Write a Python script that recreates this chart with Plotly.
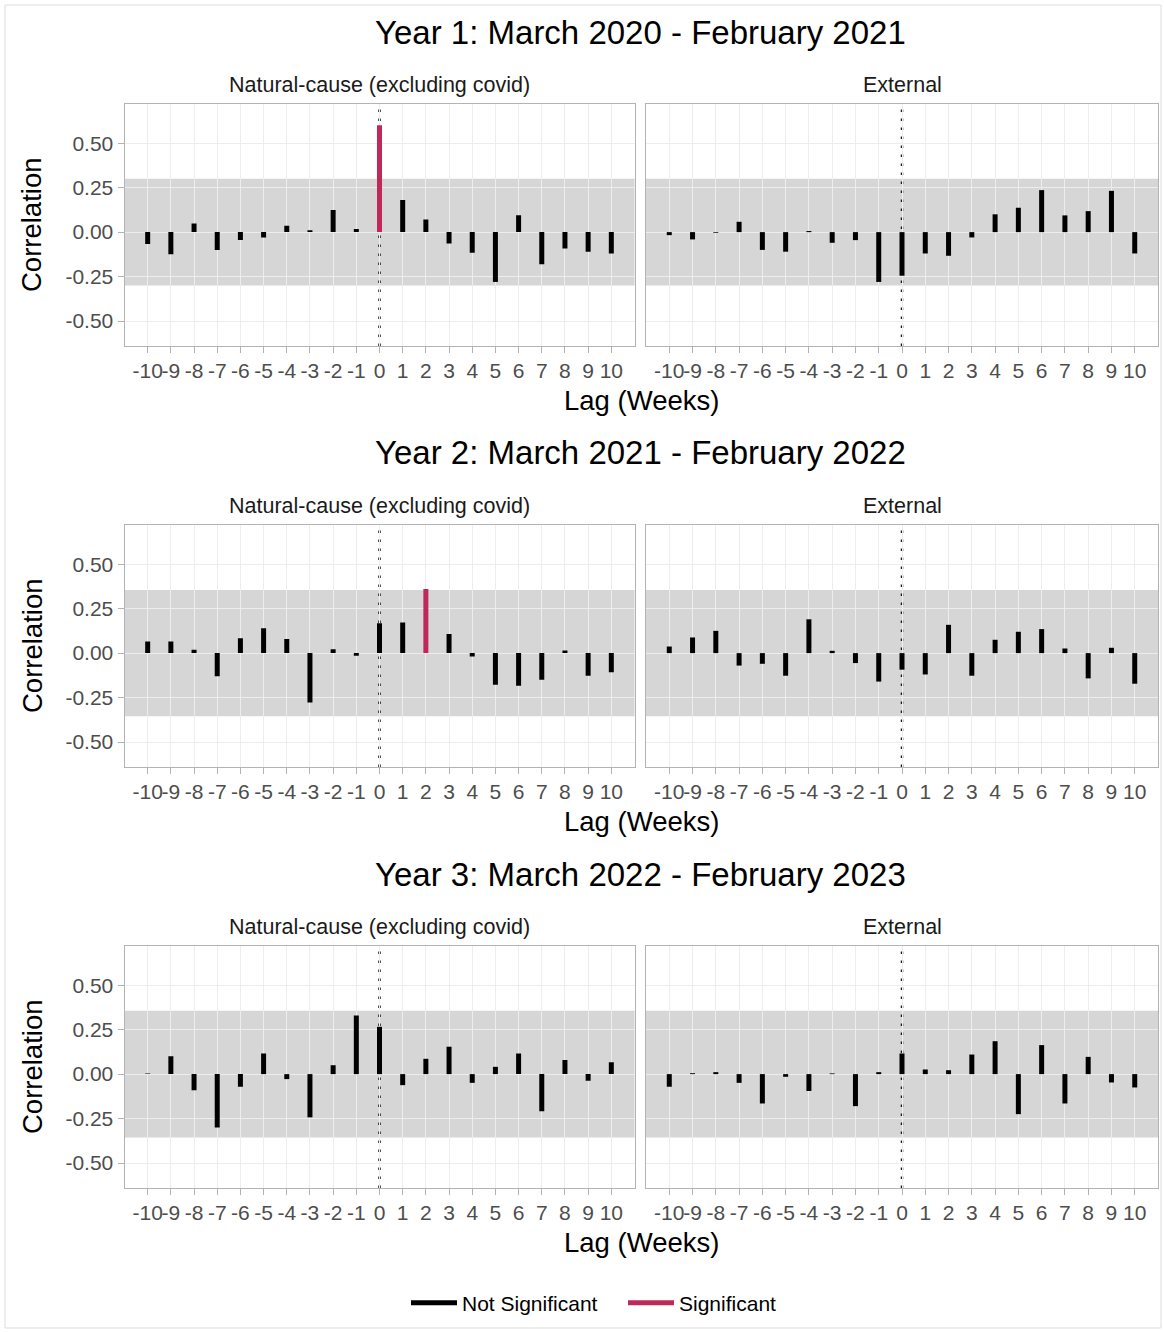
import plotly.graph_objects as go

# ---------------- data ----------------
lags = list(range(-10, 11))
lag_tick_labels = ["-10", "-9", "-8", "-7", "-6", "-5", "-4", "-3", "-2", "-1", "0",
                   "1", "2", "3", "4", "5", "6", "7", "8", "9", "10"]
corr_tick_values = [-0.5, -0.25, 0.0, 0.25, 0.5]
corr_tick_labels = ["-0.50", "-0.25", "0.00", "0.25", "0.50"]

year_titles = ["Year 1: March 2020 - February 2021",
               "Year 2: March 2021 - February 2022",
               "Year 3: March 2022 - February 2023"]
panel_titles = ["Natural-cause (excluding covid)", "External"]

# correlation by lag (-10 .. 10)
y1_natural = [-0.067, -0.124, 0.049, -0.10, -0.045, -0.03, 0.036, 0.01, 0.124, 0.017, 0.60,
              0.18, 0.071, -0.064, -0.116, -0.28, 0.095, -0.18, -0.092, -0.11, -0.12]
y1_external = [-0.017, -0.041, -0.004, 0.058, -0.10, -0.11, 0.006, -0.06, -0.045, -0.28, -0.245,
               -0.12, -0.133, -0.03, 0.10, 0.137, 0.236, 0.094, 0.118, 0.232, -0.12]
y2_natural = [0.065, 0.065, 0.019, -0.13, 0.084, 0.14, 0.08, -0.277, 0.022, -0.015, 0.168,
              0.172, 0.36, 0.108, -0.019, -0.178, -0.183, -0.15, 0.015, -0.127, -0.108]
y2_external = [0.037, 0.088, 0.125, -0.07, -0.06, -0.127, 0.19, 0.013, -0.056, -0.16, -0.093,
               -0.12, 0.159, -0.127, 0.075, 0.12, 0.135, 0.026, -0.142, 0.03, -0.172]
y3_natural = [0.004, 0.10, -0.09, -0.30, -0.071, 0.116, -0.028, -0.243, 0.05, 0.33, 0.266,
              -0.062, 0.086, 0.154, -0.049, 0.041, 0.116, -0.208, 0.079, -0.037, 0.067]
y3_external = [-0.071, 0.005, 0.011, -0.049, -0.165, -0.015, -0.095, 0.004, -0.18, 0.011, 0.116,
               0.026, 0.022, 0.11, 0.185, -0.225, 0.163, -0.165, 0.097, -0.047, -0.075]

# lags flagged significant in each panel
y1_natural_sig = [0]
y1_external_sig = []
y2_natural_sig = [2]
y2_external_sig = []
y3_natural_sig = []
y3_external_sig = []

# significance band half-width per year
band_limits = [0.30, 0.355, 0.356]

series = [
    [(y1_natural, y1_natural_sig), (y1_external, y1_external_sig)],
    [(y2_natural, y2_natural_sig), (y2_external, y2_external_sig)],
    [(y3_natural, y3_natural_sig), (y3_external, y3_external_sig)],
]

# ---------------- layout helpers ----------------
W, H = 1164, 1332
FONT = "Liberation Sans, Arial, sans-serif"
BLACK_BAR = "#000000"
RED_BAR = "#C0285A"
GRID = "#EDEDED"
BORDER = "#B3B3B3"
TICKTXT = "#4D4D4D"

def px_x(p):
    return p / W

def px_y(p):
    return 1 - p / H

col_px = [(124.5, 634.5), (646.0, 1158.0)]
row_top = [104, 525, 946]
row_h = 242
title_y = [32, 453, 874]
strip_y = [85, 506, 927]
xtitle_y = [400, 821, 1242]
yrange = [-0.64, 0.72]

fig = go.Figure()
shapes = []
annotations = []
legend_shown = {"ns": False, "s": False}

for r in range(3):
    for c in range(2):
        idx = r * 2 + c + 1
        xa = "x" if idx == 1 else f"x{idx}"
        ya = "y" if idx == 1 else f"y{idx}"
        vals, sig = series[r][c]

        xs_ns, ys_ns, xs_s, ys_s = [], [], [], []
        for lag, v in zip(lags, vals):
            if lag in sig:
                xs_s += [lag, lag, None]
                ys_s += [0, v, None]
            else:
                xs_ns += [lag, lag, None]
                ys_ns += [0, v, None]

        fig.add_trace(go.Scatter(
            x=xs_ns, y=ys_ns, mode="lines", xaxis=xa, yaxis=ya,
            line=dict(color=BLACK_BAR, width=5),
            name="Not Significant", legendgroup="ns",
            showlegend=not legend_shown["ns"], hoverinfo="skip"))
        legend_shown["ns"] = True
        if xs_s:
            fig.add_trace(go.Scatter(
                x=xs_s, y=ys_s, mode="lines", xaxis=xa, yaxis=ya,
                line=dict(color=RED_BAR, width=5),
                name="Significant", legendgroup="s",
                showlegend=not legend_shown["s"], hoverinfo="skip"))
            legend_shown["s"] = True

        x0, x1 = col_px[c]
        top = row_top[r]
        bot = top + row_h
        axis_common = dict(showline=True, mirror=True, linecolor=BORDER, linewidth=1,
                           showgrid=True, gridcolor=GRID, gridwidth=0.6,
                           zeroline=False, automargin=False)
        fig.update_layout(**{
            ("xaxis" if idx == 1 else f"xaxis{idx}"): dict(
                domain=[px_x(x0), px_x(x1)], anchor=ya, range=[-11, 11],
                tickmode="array", tickvals=lags, ticktext=lag_tick_labels,
                tickangle=0, ticks="outside", ticklen=6, tickcolor=BORDER,
                tickfont=dict(family=FONT, size=21, color=TICKTXT),
                **axis_common),
            ("yaxis" if idx == 1 else f"yaxis{idx}"): dict(
                domain=[px_y(bot), px_y(top)], anchor=xa, range=yrange,
                tickmode="array", tickvals=corr_tick_values, ticktext=corr_tick_labels,
                showticklabels=(c == 0), ticks="outside" if c == 0 else "",
                ticklen=6, tickcolor=BORDER,
                tickfont=dict(family=FONT, size=21, color=TICKTXT),
                **axis_common),
        })

        # significance band
        shapes.append(dict(type="rect", xref=f"{xa} domain", yref=ya,
                           x0=0, x1=1, y0=-band_limits[r], y1=band_limits[r],
                           fillcolor="#D6D6D6", line=dict(width=0), layer="below"))
        # dotted line at lag 0
        shapes.append(dict(type="line", xref=xa, yref=f"{ya} domain",
                           x0=0, x1=0, y0=0, y1=1,
                           line=dict(color="#1A1A1A", width=2.5, dash="2.5px,6.5px"),
                           layer="below"))

        # strip label
        annotations.append(dict(text=panel_titles[c], xref="paper", yref="paper",
                                x=px_x((x0 + x1) / 2), y=px_y(strip_y[r]),
                                xanchor="center", yanchor="middle", showarrow=False,
                                font=dict(family=FONT, size=21.5, color="#1A1A1A")))

    # year title
    annotations.append(dict(text=year_titles[r], xref="paper", yref="paper",
                            x=px_x(640), y=px_y(title_y[r]),
                            xanchor="center", yanchor="middle", showarrow=False,
                            font=dict(family=FONT, size=33, color="#000000")))
    # x-axis title
    annotations.append(dict(text="Lag (Weeks)", xref="paper", yref="paper",
                            x=px_x(641), y=px_y(xtitle_y[r]),
                            xanchor="center", yanchor="middle", showarrow=False,
                            font=dict(family=FONT, size=27.5, color="#000000")))
    # y-axis title
    annotations.append(dict(text="Correlation", xref="paper", yref="paper",
                            x=px_x(32), y=px_y(row_top[r] + row_h / 2),
                            xanchor="center", yanchor="middle", showarrow=False,
                            textangle=-90,
                            font=dict(family=FONT, size=27.5, color="#000000")))

# outer frame
shapes.append(dict(type="rect", xref="paper", yref="paper",
                   x0=px_x(5), x1=px_x(1161), y0=px_y(1328), y1=px_y(5),
                   line=dict(color="#DDDDDD", width=1), fillcolor="rgba(0,0,0,0)",
                   layer="below"))

fig.update_layout(
    width=W, height=H,
    margin=dict(l=0, r=0, t=0, b=0),
    paper_bgcolor="white", plot_bgcolor="white",
    template=None,
    shapes=shapes, annotations=annotations,
    showlegend=True,
    legend=dict(orientation="h", x=px_x(406), xanchor="left",
                y=px_y(1303), yanchor="middle",
                font=dict(family=FONT, size=21, color="#000000"),
                bgcolor="rgba(0,0,0,0)", itemwidth=46,
                entrywidth=156, entrywidthmode="pixels"),
    font=dict(family=FONT),
)

fig.write_html("out.html")
